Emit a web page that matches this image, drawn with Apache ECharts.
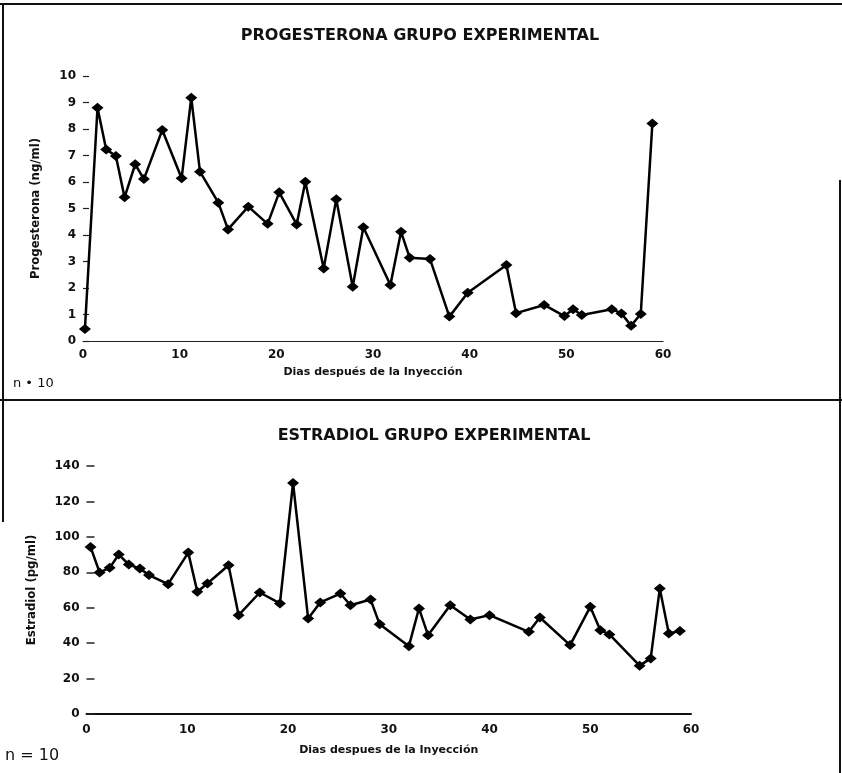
<!DOCTYPE html>
<html>
<head>
<meta charset="utf-8">
<script src="https://cdn.jsdelivr.net/npm/echarts@6/dist/echarts.min.js"></script>
<style>
  html, body { margin: 0; padding: 0; background: #fff; }
  #chart { width: 842px; height: 773px; }
</style>
</head>
<body>
<div id="chart"></div>
<script>
// progesterona: dias y valores (ng/ml)
const progDays = [0.2, 1.5, 2.4, 3.4, 4.3, 5.4, 6.3, 8.2, 10.2, 11.2, 12.1, 14.0, 15.0, 17.1, 19.1,
  20.3, 22.1, 23.0, 24.9, 26.2, 27.9, 29.0, 31.8, 32.9, 33.8, 35.9, 37.9, 39.8, 43.8, 44.8,
  47.7, 49.8, 50.7, 51.6, 54.7, 55.7, 56.7, 57.7, 58.9];
const progValues = [0.45, 8.8, 7.23, 6.98, 5.42, 6.67, 6.11, 7.96, 6.14, 9.18, 6.39, 5.22, 4.21, 5.07, 4.42,
  5.61, 4.4, 6.01, 2.74, 5.35, 2.05, 4.29, 2.11, 4.12, 3.14, 3.09, 0.92, 1.82, 2.87, 1.05,
  1.36, 0.94, 1.2, 0.98, 1.2, 1.04, 0.58, 1.02, 8.21];

// estradiol: dias y valores (pg/ml)
const estDays = [0.4, 1.3, 2.3, 3.2, 4.2, 5.3, 6.2, 8.1, 10.1, 11.0, 12.0, 14.1, 15.1, 17.2, 19.2,
  20.5, 22.0, 23.2, 25.2, 26.2, 28.2, 29.1, 32.0, 33.0, 33.9, 36.1, 38.1, 40.0, 43.9, 45.0,
  48.0, 50.0, 51.0, 51.9, 54.9, 56.0, 56.9, 57.8, 58.9];
const estValues = [94.3, 79.9, 82.5, 90, 84.4, 82.1, 78.4, 73.3, 91.1, 69, 73.7, 84, 55.8, 68.6, 62.4,
  130.4, 53.9, 63, 68, 61.4, 64.6, 50.6, 38.3, 59.6, 44.5, 61.4, 53.4, 55.8, 46.4, 54.5,
  38.9, 60.5, 47.3, 44.9, 27.3, 31.4, 70.8, 45.5, 46.8];

const chart = echarts.init(document.getElementById('chart'));

const tickFont = { color: '#111', fontFamily: 'DejaVu Sans', fontWeight: 'bold', fontSize: 12 };
const nameFont = { fontFamily: 'DejaVu Sans', fontWeight: 'bold', fontSize: 11, color: '#111' };
const yNameFont = { fontFamily: "'DejaVu Sans Condensed', 'Liberation Sans', sans-serif", fontWeight: 'bold', fontSize: 13, color: '#111' };

const lineSeries = (idx, days, values) => ({
  type: 'line',
  xAxisIndex: idx,
  yAxisIndex: idx,
  data: days.map((d, i) => [d, values[i]]),
  symbol: 'diamond',
  symbolSize: [12, 10],
  showAllSymbol: true,
  lineStyle: { color: '#000', width: 2.5 },
  itemStyle: { color: '#000' },
  animation: false
});

const option = {
  backgroundColor: '#fff',
  title: [
    {
      text: 'PROGESTERONA GRUPO EXPERIMENTAL',
      left: 415, top: 23, textAlign: 'center',
      textStyle: { fontFamily: 'DejaVu Sans', fontWeight: 'bold', fontSize: 16, color: '#111' }
    },
    {
      text: 'ESTRADIOL GRUPO EXPERIMENTAL',
      left: 429, top: 423, textAlign: 'center',
      textStyle: { fontFamily: 'DejaVu Sans', fontWeight: 'bold', fontSize: 16, color: '#111' }
    }
  ],
  grid: [
    { left: 83, right: 179, top: 76, height: 265 },
    { left: 86.5, right: 151, top: 466, height: 248 }
  ],
  xAxis: [
    {
      gridIndex: 0, type: 'value', min: 0, max: 60, interval: 10,
      name: 'Dias después de la Inyección', nameLocation: 'middle', nameGap: 26,
      nameTextStyle: nameFont,
      axisLine: { show: true, lineStyle: { color: '#222', width: 1.2 } },
      axisTick: { show: false },
      splitLine: { show: false },
      axisLabel: Object.assign({ margin: 8 }, tickFont)
    },
    {
      gridIndex: 1, type: 'value', min: 0, max: 60, interval: 10,
      name: 'Dias despues de la Inyección', nameLocation: 'middle', nameGap: 31,
      nameTextStyle: nameFont,
      axisLine: { show: true, lineStyle: { color: '#111', width: 2 } },
      axisTick: { show: false },
      splitLine: { show: false },
      axisLabel: Object.assign({ margin: 10 }, tickFont)
    }
  ],
  yAxis: [
    {
      gridIndex: 0, type: 'value', min: 0, max: 10, interval: 1,
      name: 'Progesterona (ng/ml)', nameLocation: 'middle', nameGap: 41,
      nameTextStyle: yNameFont,
      axisLine: { show: false },
      axisTick: { show: true, inside: true, length: 6, lineStyle: { color: '#222', width: 1.2 } },
      splitLine: { show: false },
      axisLabel: Object.assign({ margin: 7 }, tickFont)
    },
    {
      gridIndex: 1, type: 'value', min: 0, max: 140, interval: 20,
      name: 'Estradiol (pg/ml)', nameLocation: 'middle', nameGap: 48,
      nameTextStyle: yNameFont,
      axisLine: { show: false },
      axisTick: { show: true, inside: true, length: 8, lineStyle: { color: '#222', width: 1.5 } },
      splitLine: { show: false },
      axisLabel: Object.assign({ margin: 7 }, tickFont)
    }
  ],
  series: [
    lineSeries(0, progDays, progValues),
    lineSeries(1, estDays, estValues)
  ],
  graphic: [
    // marco de la pagina escaneada
    { type: 'line', shape: { x1: 0, y1: 4, x2: 842, y2: 4 }, style: { stroke: '#111', lineWidth: 2 } },
    { type: 'line', shape: { x1: 3, y1: 4, x2: 3, y2: 522 }, style: { stroke: '#111', lineWidth: 2 } },
    { type: 'line', shape: { x1: 0, y1: 400, x2: 842, y2: 400 }, style: { stroke: '#111', lineWidth: 2 } },
    { type: 'line', shape: { x1: 840, y1: 180, x2: 840, y2: 773 }, style: { stroke: '#111', lineWidth: 2 } },
    {
      type: 'text', left: 13, top: 377,
      style: { text: 'n • 10', fontFamily: 'DejaVu Sans', fontSize: 13, fill: '#111' }
    },
    {
      type: 'text', left: 5, top: 748,
      style: { text: 'n = 10', fontFamily: 'DejaVu Sans', fontSize: 16, fill: '#111' }
    }
  ]
};

chart.setOption(option);
</script>
</body>
</html>
